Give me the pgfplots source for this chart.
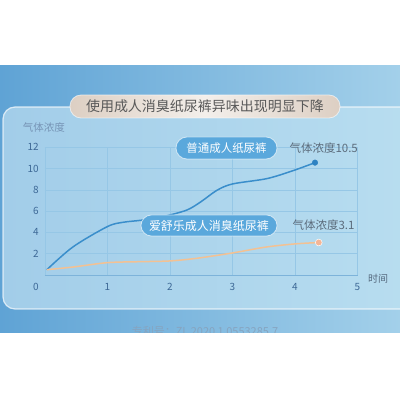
\documentclass[border=0pt]{standalone}
\usepackage{fontspec}
\setmainfont{Noto Sans CJK SC}
\usepackage{pgfplots}
\pgfplotsset{compat=1.18}

\definecolor{bgdark}{HTML}{5FA3D5}
\definecolor{bglight}{HTML}{A3D0EA}
\definecolor{panelL}{HTML}{A2CDE9}
\definecolor{panelR}{HTML}{B9DEF0}
\definecolor{gridc}{HTML}{96C7E6}
\definecolor{axisc}{HTML}{7DB3DA}
\definecolor{tickc}{HTML}{3D6896}
\definecolor{greytext}{HTML}{5C6C7C}
\definecolor{pillblue}{HTML}{5AA8DC}
\definecolor{titletan}{HTML}{DDCFC3}
\definecolor{titlelight}{HTML}{F3EFEB}
\definecolor{lineblue}{HTML}{3A8ECB}
\definecolor{dotblue}{HTML}{2E82C2}
\definecolor{lineorange}{HTML}{F3C193}
\definecolor{dotorange}{HTML}{F4B596}
\definecolor{patentc}{HTML}{86A4C0}

\begin{document}
\begin{tikzpicture}[x=1pt,y=1pt]
\path[use as bounding box] (0,0) rectangle (400,400);
\fill[white] (0,0) rectangle (400,400);
% blue band
\shade[left color=bgdark, right color=bglight] (0,67) rectangle (400,334);
% patent number, cut by the white strip below
\node[text=patentc, font=\fontsize{11}{13}\selectfont] at (205,69) {专利号：ZL 2020 1 0553285.7};
\fill[white] (0,0) rectangle (400,67);
% glass panel
\shade[left color=panelL, right color=panelR, rounded corners=12pt]
  (3,91) rectangle (430,293);
\draw[white, opacity=0.7, line width=1.2pt, rounded corners=12pt]
  (3,91) rectangle (430,293);
% title pill
\shade[left color=titletan, right color=titletan, middle color=titlelight, rounded corners=11pt]
  (70,282) rectangle (340,305);
\draw[white, opacity=0.6, line width=0.8pt, rounded corners=11pt] (70,282) rectangle (340,305);
\node[text=black!65, font=\fontsize{14}{16}\selectfont] at (205,293.5)
  {使用成人消臭纸尿裤异味出现明显下降};

\begin{axis}[
    at={(45pt,125pt)}, anchor=south west,
    scale only axis,
    width=312.5pt, height=127.8pt,
    xmin=0, xmax=5, ymin=0, ymax=12,
    xtick={0,1,2,3,4,5},
    xticklabels={,1,2,3,4,5},
    ytick={2,4,6,8,10,12},
    major tick length=0pt,
    grid=major,
    grid style={gridc, line width=0.6pt},
    axis line style={draw=none},
    xticklabel style={anchor=center, yshift=-12pt, text=tickc, font=\fontsize{10}{12}\selectfont},
    yticklabel style={anchor=east, inner sep=0pt, xshift=-6pt, text=tickc, font=\fontsize{10}{12}\selectfont},
    /pgf/number format/assume math mode=true,
    clip=false,
]
\draw[axisc, line width=0.9pt] (axis cs:0,0) -- (axis cs:5,0);

\addplot[lineblue, line width=1.5pt, smooth, tension=0.5] coordinates {
  (0.03,0.5) (0.45,2.65) (1.0,4.55) (1.25,4.95) (1.55,5.15) (1.9,5.5)
  (2.27,6.1) (2.5,6.9) (2.75,7.95) (3.0,8.55) (3.55,9.05) (3.97,9.8) (4.32,10.55)
};
\addplot[lineorange, line width=1.5pt, smooth, tension=0.5] coordinates {
  (0.03,0.5) (0.45,0.75) (1.0,1.16) (1.52,1.25) (2.0,1.32) (2.43,1.57)
  (3.0,2.07) (3.53,2.62) (4.0,2.92) (4.38,3.05)
};
\addplot[only marks, mark=*, mark size=2.8pt, mark options={fill=dotblue, draw=dotblue}]
  coordinates {(4.32,10.55)};
\addplot[only marks, mark=*, mark size=3.4pt, mark options={fill=dotorange, draw=white, line width=0.5pt}]
  coordinates {(4.38,3.05)};

\node[text=tickc, font=\fontsize{10}{12}\selectfont] at (axis cs:0,0) [xshift=-9pt, yshift=-12pt] {0};
\end{axis}

% axis titles
\node[text=tickc!70!white, font=\fontsize{10.5}{12}\selectfont] at (44,273) {气体浓度};
\node[text=greytext!85!tickc, font=\fontsize{10}{12}\selectfont] at (378,121) {时间};

% series labels
\fill[pillblue, rounded corners=11pt] (176,241) rectangle (277,263);
\draw[white, opacity=0.6, line width=0.8pt, rounded corners=11pt] (176,241) rectangle (277,263);
\node[white, font=\fontsize{11.5}{13}\selectfont] at (226.5,252) {普通成人纸尿裤};
\node[anchor=west, text=greytext, font=\fontsize{11.5}{13}\selectfont] at (286,251.5) {气体浓度10.5};

\fill[pillblue, rounded corners=10.5pt] (141,164) rectangle (277,185);
\draw[white, opacity=0.6, line width=0.8pt, rounded corners=10.5pt] (141,164) rectangle (277,185);
\node[white, font=\fontsize{12}{14}\selectfont] at (209,174.5) {爱舒乐成人消臭纸尿裤};
\node[anchor=west, text=greytext, font=\fontsize{11.5}{13}\selectfont] at (289,175) {气体浓度3.1};
\end{tikzpicture}
\end{document}
